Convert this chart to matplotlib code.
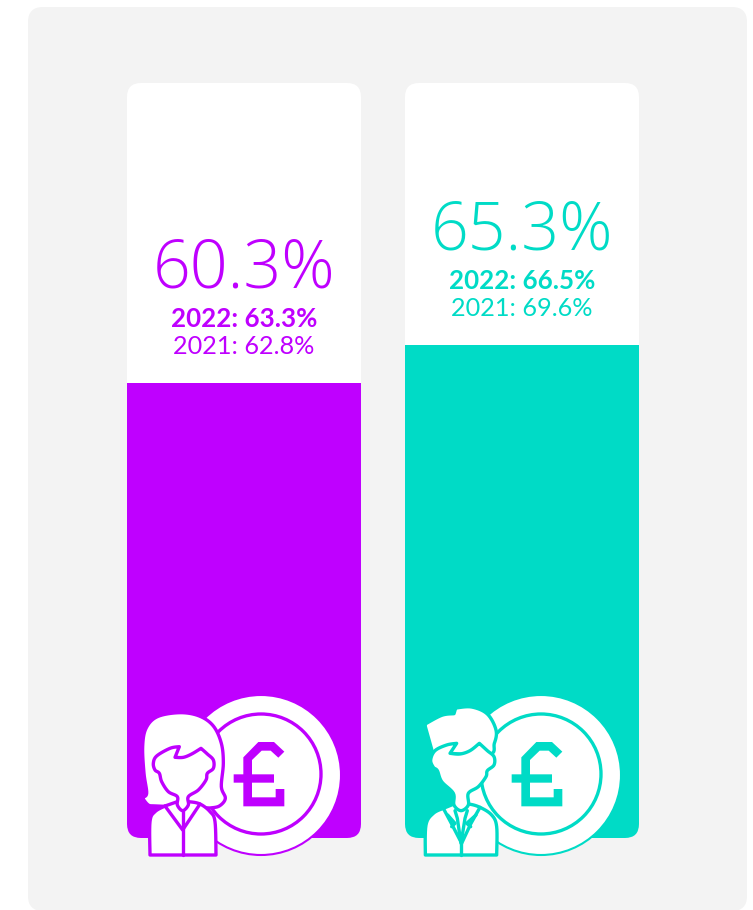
import numpy as np
import matplotlib
matplotlib.use("Agg")
import matplotlib.pyplot as plt
from matplotlib.patches import FancyBboxPatch, Circle, Polygon

groups = ["Women", "Men"]
values_2023 = [60.3, 65.3]
values_2022 = [63.3, 66.5]
values_2021 = [62.8, 69.6]
colors = ["#BF00FF", "#00DBC6"]
PANEL = "#F3F3F3"

W, H = 753, 910
fig = plt.figure(figsize=(W / 100, H / 100), dpi=100, facecolor="white")
FONT = ["Lato", "Open Sans", "DejaVu Sans"]
MAIN_FONT = ["Open Sans", "Lato", "DejaVu Sans"]


def pixel_axes(z):
    a = fig.add_axes([0, 0, 1, 1], zorder=z)
    a.set_xlim(0, W)
    a.set_ylim(H, 0)
    a.axis("off")
    return a


bg = pixel_axes(0)
bg.add_patch(FancyBboxPatch((28, 7), 719, 904, boxstyle="round,pad=0,rounding_size=15",
                            fc=PANEL, ec="none"))

LEFT, RIGHT, TOP, BOTTOM, BW = 127, 639, 83, 838, 234
STEP = RIGHT - LEFT - BW
cards = []
for i in range(2):
    x = LEFT + i * STEP
    c = FancyBboxPatch((x, TOP), BW, BOTTOM - TOP, boxstyle="round,pad=0,rounding_size=14",
                       fc="white", ec="none")
    bg.add_patch(c)
    cards.append(c)

ax = fig.add_axes([LEFT / W, 1 - BOTTOM / H, (RIGHT - LEFT) / W, (BOTTOM - TOP) / H], zorder=1)
half = BW / STEP / 2
ax.set_xlim(-half, 1 + half)
ax.set_ylim(0, 100)
ax.axis("off")
bars = ax.bar(range(2), values_2023, width=BW / STEP, color=colors, linewidth=0)
for b, c in zip(bars, cards):
    b.set_clip_path(c)

for i in range(2):
    v, col = values_2023[i], colors[i]
    ax.annotate(f"{v:.1f}%", (i, v), xytext=(0, 95), textcoords="offset pixels", ha="center",
                va="baseline", color=col, fontsize=47.7, family=MAIN_FONT, fontweight=300)
    ax.annotate(f"2022: {values_2022[i]:.1f}%", (i, v), xytext=(0, 56), textcoords="offset pixels",
                ha="center", va="baseline", color=col, fontsize=18.7, family=FONT, fontweight="bold")
    ax.annotate(f"2021: {values_2021[i]:.1f}%", (i, v), xytext=(0, 29), textcoords="offset pixels",
                ha="center", va="baseline", color=col, fontsize=18.2, family=FONT)

ic = pixel_axes(2)


def smooth(pts, corners=(), n=8):
    """Catmull-Rom outline through zoom-space points; listed indices stay sharp."""
    p = np.array(pts, float)
    m = len(p)
    out = []
    for i in range(m):
        a, b, c, d = p[i - 1], p[i], p[(i + 1) % m], p[(i + 2) % m]
        if i in corners:
            a = b
        if (i + 1) % m in corners:
            d = c
        for t in np.linspace(0, 1, n, endpoint=False):
            out.append(0.5 * (2 * b + (c - a) * t + (2 * a - 5 * b + 4 * c - d) * t ** 2
                              + (3 * b - a - 3 * c + d) * t ** 3))
    return np.array(out)


def draw_shape(pts, x0, col, fc="white", lw=2.4, corners=None, closed=True, z=3):
    if corners is None:
        arr = np.array(pts, float)
    else:
        arr = smooth(pts, corners)
    arr = arr / 3 + [x0, 680]
    ic.add_patch(Polygon(arr, closed=closed, fc=fc if closed else "none", ec=col, lw=lw,
                         joinstyle="round", capstyle="round", zorder=z))


POUND = [(415, 186), (462, 186), (493, 215), (475, 233), (452, 212), (425, 212), (396, 240), (396, 283),
         (462, 283), (462, 308), (396, 308), (396, 352), (467, 352), (467, 327), (493, 327), (493, 379),
         (370, 379), (370, 308), (341, 308), (341, 283), (370, 283), (370, 232)]

# woman
HAIR_W = [(110, 378), (85, 375), (66, 352), (80, 340), (72, 280), (68, 200), (78, 145), (112, 110), (180, 98),
          (238, 108), (280, 138), (304, 190), (310, 250), (304, 320), (316, 355), (298, 378), (270, 384)]
FACE_W = [(178, 200), (150, 205), (110, 228), (100, 250), (105, 270), (118, 280), (125, 305), (145, 335),
          (172, 350), (172, 375), (188, 392), (205, 375), (205, 350), (235, 330), (258, 300), (262, 280),
          (280, 265), (280, 240), (262, 222), (243, 205), (215, 222), (190, 232), (165, 232)]
BODY_W = [(135, 378), (105, 395), (90, 425), (90, 525), (288, 525), (285, 425), (270, 395), (240, 372),
          (205, 365), (172, 365)]
COLLAR_W = [(135, 378), (188, 450), (240, 372)]
MID_W = [(188, 392), (188, 525)]

# man
HAIR_M = [(74, 133), (125, 106), (162, 101), (167, 84), (215, 81), (262, 102), (288, 150), (283, 190), (262, 225),
          (97, 215)]
FACE_M = [(170, 190), (140, 195), (105, 212), (92, 240), (100, 262), (112, 272), (125, 305), (160, 340),
          (162, 375), (183, 392), (205, 375), (205, 340), (235, 320), (258, 290), (262, 272), (282, 255),
          (282, 230), (262, 212), (238, 190), (210, 212), (180, 222), (150, 220)]
BODY_M = [(130, 385), (100, 400), (78, 435), (76, 525), (290, 525), (290, 440), (275, 405), (240, 382),
          (205, 372), (162, 372)]
COLLAR_M = [(130, 385), (155, 432), (185, 490), (212, 432), (240, 382)]
TIE_M = [(165, 392), (172, 415), (183, 490), (195, 415), (202, 392)]
LAPEL_M = [(143, 405), (165, 430), (155, 440)]
LAPEL_M2 = [(228, 405), (200, 430), (212, 440)]
MID_M = [(183, 490), (183, 525)]

for i, col in enumerate(colors):
    x0 = 120 + i * 280
    cx = x0 + 141
    ic.add_patch(Circle((cx, 775), 80, fc="white", ec=col, lw=1.5, zorder=2))
    ic.add_patch(Circle((cx, 774), 60, fc="white", ec=col, lw=2.4, zorder=2))
    px = x0 if i == 0 else x0 - 2
    ic.add_patch(Polygon(np.array(POUND, float) / 3 + [px, 680], closed=True, fc=col, ec="none", zorder=2))

x0 = 120
col = colors[0]
draw_shape(HAIR_W, x0, col, corners=(2, 16))
draw_shape(BODY_W, x0, col, corners=(3, 4, 0, 9))
draw_shape(COLLAR_W, x0, col, closed=False, z=4)
draw_shape(MID_W, x0, col, closed=False, z=4)
draw_shape(FACE_W, x0, col, corners=(0, 19, 22), z=5)

x0 = 400
col = colors[1]
draw_shape(HAIR_M, x0, col, corners=(0, 2, 3, 9))
draw_shape(BODY_M, x0, col, corners=(3, 4, 0, 9))
draw_shape(COLLAR_M, x0, col, closed=False, z=4)
draw_shape(TIE_M, x0, col, closed=False, z=4)
draw_shape(LAPEL_M, x0, col, closed=False, z=4)
draw_shape(LAPEL_M2, x0, col, closed=False, z=4)
draw_shape(MID_M, x0, col, closed=False, z=4)
draw_shape(FACE_M, x0, col, corners=(0, 18, 21), z=5)

fig.savefig("out.png", dpi=100, facecolor="white")
